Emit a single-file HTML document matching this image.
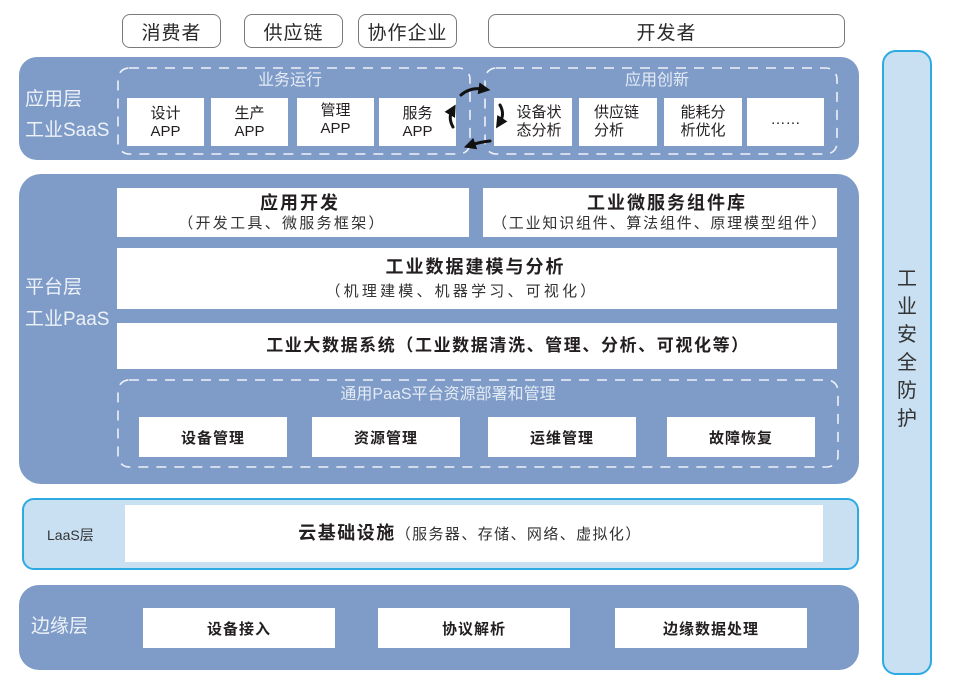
<!DOCTYPE html>
<html><head><meta charset="utf-8"><style>
*{margin:0;padding:0;box-sizing:border-box}
body{width:958px;height:693px;background:#fff;position:relative;overflow:hidden;font-family:"Liberation Sans","Noto Sans CJK SC",sans-serif;color:#231f20}
.a{position:absolute}
.top{position:absolute;border:1.5px solid #7a7a7a;border-radius:8px;background:#fff;display:flex;align-items:center;justify-content:center;font-size:19px;letter-spacing:1px;color:#2a2a2a;height:34px;top:14px}
.panel{position:absolute;background:#7f9cc8}
.lbl{position:absolute;color:#eef2f8;font-size:19px;line-height:22px;white-space:nowrap}
.wb{position:absolute;background:#fff;display:flex;align-items:center;justify-content:center;text-align:center}
.app{font-size:15px;line-height:18px;color:#231f20}
.lt{display:inline-block;text-align:left}
.t1{font-weight:bold;font-size:18px;letter-spacing:2px;line-height:22px}
.t2{font-size:15px;letter-spacing:2.3px;line-height:20px;color:#333}
.bb{font-weight:bold;font-size:15px;letter-spacing:1px}
.sub{position:absolute;color:#e4ebf5;font-size:16px;line-height:20px;white-space:nowrap;text-align:center}
</style></head><body>

<div class="top" style="left:122px;width:99px">消费者</div>
<div class="top" style="left:244px;width:99px">供应链</div>
<div class="top" style="left:358px;width:99px">协作企业</div>
<div class="top" style="left:488px;width:357px">开发者</div>

<!-- SaaS -->
<div class="panel" style="left:19px;top:57px;width:840px;height:103px;border-radius:18px"></div>
<div class="lbl" style="left:25px;top:89px">应用层</div>
<div class="lbl" style="left:25px;top:120px">工业SaaS</div>
<div class="sub" style="left:240px;top:71px;width:100px">业务运行</div>
<div class="sub" style="left:607px;top:71px;width:100px">应用创新</div>
<div class="wb app" style="left:127px;top:98px;width:77px;height:48px;padding-top:2px">设计<br>APP</div>
<div class="wb app" style="left:211px;top:98px;width:77px;height:48px;padding-top:2px">生产<br>APP</div>
<div class="wb app" style="left:297px;top:98px;width:77px;height:48px;padding-bottom:4px">管理<br>APP</div>
<div class="wb app" style="left:379px;top:98px;width:77px;height:48px;padding-top:2px">服务<br>APP</div>
<div class="wb app" style="left:494px;top:98px;width:78px;height:48px;padding-left:12px"><span class="lt">设备状<br>态分析</span></div>
<div class="wb app" style="left:579px;top:98px;width:78px;height:48px;justify-content:flex-start;padding-left:15px"><span class="lt">供应链<br>分析</span></div>
<div class="wb app" style="left:664px;top:98px;width:78px;height:48px"><span class="lt">能耗分<br>析优化</span></div>
<div class="wb app" style="left:747px;top:98px;width:77px;height:48px;padding-bottom:4px">……</div>

<!-- PaaS -->
<div class="panel" style="left:19px;top:174px;width:840px;height:310px;border-radius:22px"></div>
<div class="lbl" style="left:25px;top:277px">平台层</div>
<div class="lbl" style="left:25px;top:309px">工业PaaS</div>
<div class="wb" style="left:117px;top:188px;width:352px;height:49px;flex-direction:column"><div class="t1" style="margin-left:14px">应用开发</div><div class="t2" style="margin-left:-22px">（开发工具、微服务框架）</div></div>
<div class="wb" style="left:483px;top:188px;width:354px;height:49px;flex-direction:column"><div class="t1" style="margin-left:14px">工业微服务组件库</div><div class="t2" style="letter-spacing:1.8px">（工业知识组件、算法组件、原理模型组件）</div></div>
<div class="wb" style="left:117px;top:248px;width:720px;height:61px;flex-direction:column"><div class="t1" style="margin-left:-3px">工业数据建模与分析</div><div class="t2" style="margin-top:4px;letter-spacing:3.2px;margin-left:-30px">（机理建模、机器学习、可视化）</div></div>
<div class="wb" style="left:117px;top:323px;width:720px;height:46px"><div class="t1" style="font-size:17px;letter-spacing:1.6px;margin-left:62px">工业大数据系统（工业数据清洗、管理、分析、可视化等）</div></div>
<div class="sub" style="left:298px;top:385px;width:300px">通用PaaS平台资源部署和管理</div>
<div class="wb bb" style="left:139px;top:417px;width:148px;height:40px">设备管理</div>
<div class="wb bb" style="left:312px;top:417px;width:148px;height:40px">资源管理</div>
<div class="wb bb" style="left:488px;top:417px;width:148px;height:40px">运维管理</div>
<div class="wb bb" style="left:667px;top:417px;width:148px;height:40px">故障恢复</div>

<!-- LaaS -->
<div class="a" style="left:22px;top:498px;width:837px;height:72px;border:2px solid #2eaae2;border-radius:12px;background:#c9e0f3"></div>
<div class="a" style="left:47px;top:525px;font-size:14px;line-height:20px;color:#333">LaaS层</div>
<div class="wb" style="left:125px;top:505px;width:698px;height:57px"><span style="margin-left:-8px"><span class="t1" style="letter-spacing:1.5px">云基础设施</span><span class="t2" style="letter-spacing:1.4px">（服务器、存储、网络、虚拟化）</span></span></div>

<!-- Edge -->
<div class="panel" style="left:19px;top:585px;width:840px;height:85px;border-radius:20px"></div>
<div class="lbl" style="left:31px;top:616px">边缘层</div>
<div class="wb bb" style="left:143px;top:608px;width:192px;height:40px">设备接入</div>
<div class="wb bb" style="left:378px;top:608px;width:192px;height:40px">协议解析</div>
<div class="wb bb" style="left:615px;top:608px;width:192px;height:40px">边缘数据处理</div>

<!-- Security -->
<div class="a" style="left:882px;top:50px;width:50px;height:625px;border:2px solid #2eaae2;border-radius:14px;background:#c9e0f3"></div>
<div class="a" style="left:882px;top:265px;width:50px;text-align:center;font-size:20px;line-height:28px;color:#333">工<br>业<br>安<br>全<br>防<br>护</div>

<svg class="a" style="left:0;top:0" width="958" height="693" viewBox="0 0 958 693">
<defs>
<marker id="ah" markerWidth="4" markerHeight="4" refX="1.5" refY="2" orient="auto" markerUnits="strokeWidth">
<path d="M0,0 L4,2 L0,4 z" fill="#111"/></marker>
</defs>
<g fill="none" stroke="#eef2f8" stroke-width="1.6" stroke-dasharray="10 8">
<rect x="118" y="68" width="352" height="86" rx="11"/>
<rect x="485" y="68" width="352" height="86" rx="11"/>
<rect x="118" y="380" width="720" height="87" rx="11"/>
</g>
<g fill="none" stroke="#111" stroke-width="3" stroke-linecap="round" marker-end="url(#ah)">
<path d="M461,95 Q470,87 483,89"/>
<path d="M500,105 Q505,114 500,122"/>
<path d="M490,141 Q480,142 471,145"/>
<path d="M453,127 Q448,118 452,111"/>
</g>
</svg>
</body></html>
